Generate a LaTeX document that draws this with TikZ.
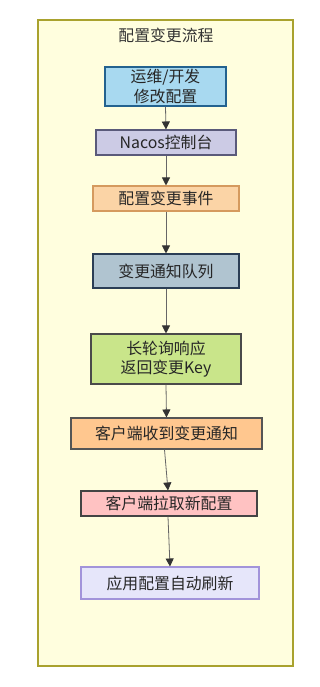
\documentclass[tikz,border=0pt]{standalone}
\usepackage{fontspec}
\setmainfont{Noto Sans CJK SC}
\usetikzlibrary{arrows.meta}
\definecolor{bgc}{HTML}{FFFEDE}
\definecolor{bgb}{HTML}{A9A22E}
\definecolor{f1}{HTML}{A8D9F0}\definecolor{d1}{HTML}{23628F}
\definecolor{f2}{HTML}{CCCBE5}\definecolor{d2}{HTML}{5A5A7A}
\definecolor{f3}{HTML}{FBD4A6}\definecolor{d3}{HTML}{D59A5E}
\definecolor{f4}{HTML}{B0C4D0}\definecolor{d4}{HTML}{2B3E55}
\definecolor{f5}{HTML}{C9E58A}\definecolor{d5}{HTML}{4A4A4A}
\definecolor{f6}{HTML}{FFC78F}\definecolor{d6}{HTML}{555555}
\definecolor{f7}{HTML}{FFC2C2}\definecolor{d7}{HTML}{444444}
\definecolor{f8}{HTML}{E6E6FA}\definecolor{d8}{HTML}{A294DA}
\tikzset{
  box/.style={draw, line width=0.8pt, align=center, inner sep=0pt, font=\fontsize{11.9pt}{14.5pt}\selectfont, text=black!85},
  conn/.style={draw=black!60, line width=0.6pt, -{Triangle[length=6pt,width=6pt,color=black!80]}},
}
\begin{document}
\begin{tikzpicture}[x=0.75pt,y=-0.75pt]
\useasboundingbox (0,0) rectangle (319,687);
\fill[white] (0,0) rectangle (319,687);
\node[draw=bgb, fill=bgc, line width=0.8pt, minimum width={255*0.75pt}, minimum height={646*0.75pt}, inner sep=0pt] (frame) at (165.5,343) {};
\node[font=\fontsize{11.9pt}{14pt}\selectfont, text=black!80] (title) at (166,35) {配置变更流程};
\node[box, fill=f1, draw=d1, minimum width={121*0.75pt}, minimum height={39*0.75pt}] (n1) at (165.5,86.5) {运维/开发\\修改配置};
\node[box, fill=f2, draw=d2, minimum width={140*0.75pt}, minimum height={25*0.75pt}] (n2) at (166,142.5) {Nacos控制台};
\node[box, fill=f3, draw=d3, minimum width={146*0.75pt}, minimum height={25*0.75pt}] (n3) at (166,198.5) {配置变更事件};
\node[box, fill=f4, draw=d4, minimum width={146*0.75pt}, minimum height={34*0.75pt}] (n4) at (166,271) {变更通知队列};
\node[box, fill=f5, draw=d5, minimum width={150*0.75pt}, minimum height={50*0.75pt}] (n5) at (166,359) {长轮询响应\\返回变更Key};
\node[box, fill=f6, draw=d6, minimum width={191*0.75pt}, minimum height={31*0.75pt}] (n6) at (166.5,433.5) {客户端收到变更通知};
\node[box, fill=f7, draw=d7, minimum width={176*0.75pt}, minimum height={25*0.75pt}] (n7) at (169,503.5) {客户端拉取新配置};
\node[box, fill=f8, draw=d8, minimum width={178*0.75pt}, minimum height={32*0.75pt}] (n8) at (170,583) {应用配置自动刷新};
\draw[conn] (n1.south) -- (n2.north);
\draw[conn] (n2.south) -- (n3.north);
\draw[conn] (n3.south) -- (n4.north);
\draw[conn] (n4.south) -- (n5.north);
\draw[conn] (n5.south) -- (n6.north);
\draw[conn] ([xshift={-2*0.75pt}]n6.south) -- ([xshift={-1*0.75pt}]n7.north);
\draw[conn] ([xshift={-1*0.75pt}]n7.south) -- (n8.north);
\end{tikzpicture}
\end{document}
